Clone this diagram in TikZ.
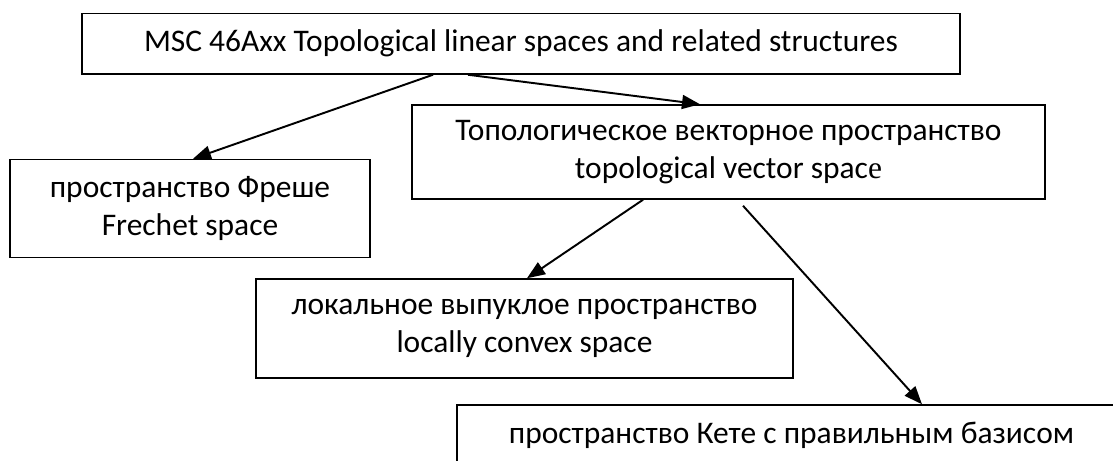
\documentclass[tikz,border=0pt]{standalone}
\usepackage{fontspec}
\setmainfont{Carlito}
\newfontfamily\tnrfont{Liberation Serif}
\usetikzlibrary{arrows.meta, positioning}

\tikzset{
  box/.style  = {draw, line width=0.85pt, rectangle, align=center, inner sep=0pt,
                 font=\fontsize{17.9pt}{21.6pt}\selectfont},
  link/.style = {-{Triangle[length=0.36cm, width=0.28cm]}, line width=1.1pt}
}

\begin{document}
\begin{tikzpicture} [node distance = 2cm, on grid]
        \useasboundingbox (0,0) rectangle (22.26,-9.2);

        \node (msc) [box, minimum width=17.56cm, minimum height=1.21cm] at (10.42,-0.875)
              {MSC 46Axx Topological linear spaces and related structures};
        \node (tvs) [box, minimum width=12.66cm, minimum height=1.88cm,
                     below right = 2.165cm and 4.15cm of msc]
              {Топологическое векторное пространство\\topological vector spac{\tnrfont e}};
        \node (frechet) [box, minimum width=7.2cm, minimum height=1.96cm,
                         below left = 3.295cm and 6.62cm of msc]
              {пространство Фреше\\Frechet space};
        \node (lcs) [box, minimum width=10.74cm, minimum height=1.98cm,
                     below left = 3.53cm and 4.08cm of tvs]
              {локальное выпуклое пространство\\locally convex space};
        \node (kothe) [box, minimum width=13.38cm, minimum height=1.2cm,
                       below right = 5.66cm and 1.26cm of tvs]
              {пространство Кете с правильным базисом};

        \path [link] ([xshift=-1.76cm]msc.south) edge ([xshift=0.06cm]frechet.north);
        \path [link] ([xshift=-1.06cm]msc.south) edge ([xshift=-0.57cm]tvs.north);
        \path [link] ([xshift=-1.71cm]tvs.south) edge ([xshift=0.05cm]lcs.north);
        \path [link] ([xshift=0.29cm, yshift=-0.12cm]tvs.south) edge ([xshift=2.61cm]kothe.north);
    \end{tikzpicture}
\end{document}
